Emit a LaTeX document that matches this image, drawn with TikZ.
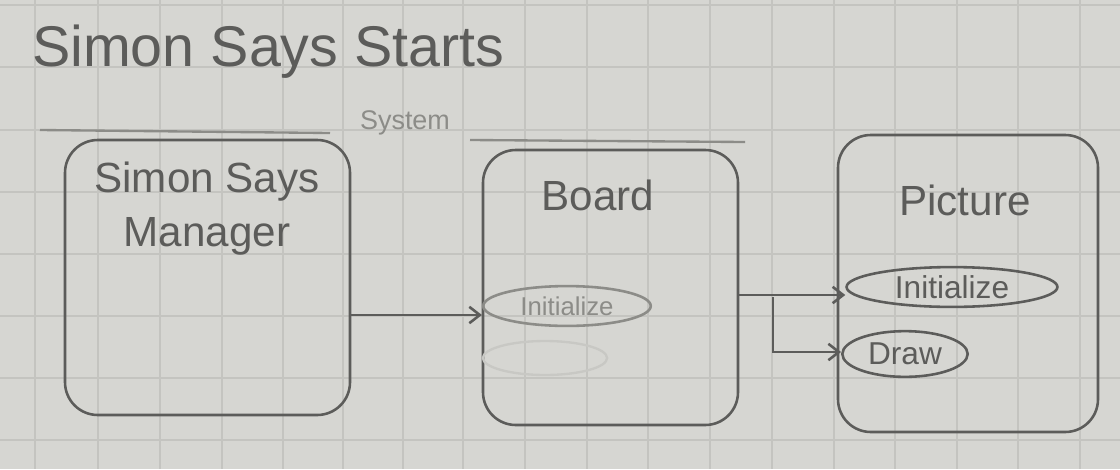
\documentclass[tikz,border=0pt]{standalone}
\usepackage{fontspec}
\setmainfont{Liberation Sans}
\usetikzlibrary{arrows.meta,shapes.geometric}
\definecolor{paper}{RGB}{214,214,210}
\definecolor{gridc}{RGB}{196,196,192}
\definecolor{pencil}{RGB}{92,92,90}
\definecolor{lightpencil}{RGB}{140,140,136}
\definecolor{faint}{RGB}{200,200,196}
\tikzset{
  pen/.style={draw=pencil, line width=2.2pt},
  box/.style={pen, rounded corners=28pt},
  oval/.style={ellipse, pen, inner sep=0pt, text=pencil, font=\fontsize{27}{29}\selectfont},
  conn/.style={pen, -{Straight Barb[length=9pt,width=14pt]}},
  lbl/.style={text=pencil, font=\fontsize{36}{46}\selectfont, align=center}
}
\begin{document}
\begin{tikzpicture}[x=0.03cm,y=-0.03cm]
\useasboundingbox (0,0) rectangle (1120,469);
\fill[paper] (0,0) rectangle (1120,469);
\foreach \gx in {35,98,160,222,283,343,403,463,525,587,648,710,772,834,895,957,1018,1080}
  \draw[gridc, line width=1pt] (\gx,0) -- (\gx,469);
\foreach \gy in {5,67,130,192,254,316,378,440}
  \draw[gridc, line width=1pt] (0,\gy) -- (1120,\gy);

% title
\node[text=pencil, font=\fontsize{49}{52}\selectfont, anchor=west] (title) at (28,52) {Simon Says Starts};
\node[text=lightpencil, font=\fontsize{23}{25}\selectfont] (system) at (405,123) {System};
\draw[lightpencil, line width=2pt] (40,130) -- (330,133);
\draw[lightpencil, line width=2pt] (470,140) -- (745,142);

% boxes
\draw[box] (65,140) rectangle (350,415);
\node[lbl, anchor=north] (mgr) at (207,158) {Simon Says\\Manager};
\coordinate (mgrE) at (350,315);

\draw[box] (483,150) rectangle (738,425);
\node[lbl] (board) at (598,195) {Board};
\node[oval, minimum width=143pt, minimum height=34pt, draw=lightpencil, text=lightpencil, font=\fontsize{22}{24}\selectfont] (binit) at (567,306) {Initialize};
\node[ellipse, draw=faint, line width=2pt, minimum width=106pt, minimum height=29pt] (berased) at (545,358) {};
\coordinate (boardE) at (738,295);

\draw[box] (838,135) rectangle (1098,432);
\node[lbl] (pict) at (965,200) {Picture};
\node[oval, minimum width=180pt, minimum height=34pt] (pinit) at (952,287) {Initialize};
\node[oval, minimum width=107pt, minimum height=39pt] (pdraw) at (905,354) {Draw};

% connectors
\draw[conn] (mgrE) -- (binit.west |- mgrE);
\draw[conn] (boardE) -- (pinit.west |- boardE);
\coordinate (split) at (773,297);
\draw[conn] (split) -- (773,352) -- (pdraw.west |- 0,352);
\end{tikzpicture}
\end{document}
